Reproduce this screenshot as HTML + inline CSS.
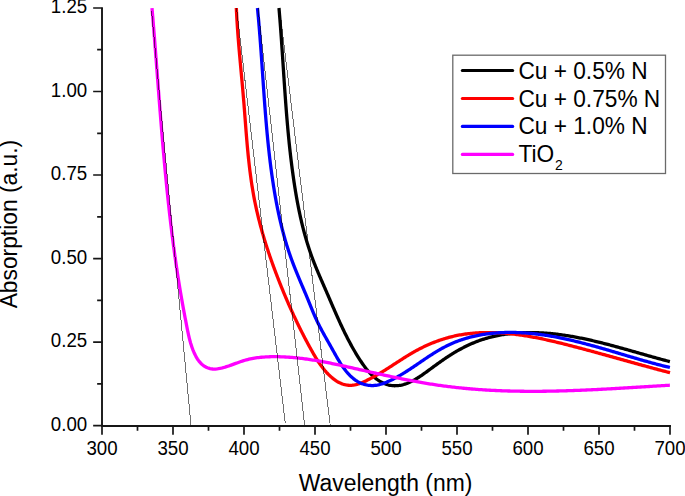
<!DOCTYPE html>
<html><head><meta charset="utf-8"><style>
html,body{margin:0;padding:0;background:#fff;width:685px;height:496px;overflow:hidden}
svg{display:block}
text{font-family:"Liberation Sans",sans-serif}
</style></head><body>
<svg width="685" height="496" viewBox="0 0 685 496">
<rect width="685" height="496" fill="#fff"/>
<g fill="none" stroke-width="3.3" stroke-linejoin="round" stroke-linecap="butt">
<path d="M278.98,8.00 L279.08,9.17 L279.18,10.34 L279.28,11.51 L279.37,12.68 L279.47,13.85 L279.56,15.02 L279.66,16.19 L279.75,17.36 L279.85,18.52 L279.94,19.69 L280.03,20.86 L280.12,22.03 L280.21,23.20 L280.30,24.37 L280.39,25.54 L280.48,26.71 L280.57,27.88 L280.65,29.05 L280.74,30.22 L280.82,31.39 L280.91,32.56 L280.99,33.73 L281.08,34.90 L281.16,36.08 L281.24,37.25 L281.33,38.42 L281.41,39.59 L281.49,40.76 L281.57,41.93 L281.65,43.10 L281.73,44.27 L281.81,45.44 L281.89,46.61 L281.97,47.78 L282.05,48.95 L282.13,50.12 L282.21,51.29 L282.29,52.46 L282.36,53.64 L282.44,54.81 L282.52,55.98 L282.60,57.15 L282.68,58.32 L282.75,59.49 L282.83,60.66 L282.91,61.83 L282.98,63.00 L283.06,64.17 L283.14,65.34 L283.21,66.52 L283.29,67.69 L283.37,68.86 L283.45,70.03 L283.52,71.20 L283.60,72.37 L283.68,73.54 L283.75,74.71 L283.83,75.88 L283.91,77.05 L283.99,78.22 L284.07,79.39 L284.14,80.57 L284.22,81.74 L284.30,82.91 L284.38,84.08 L284.46,85.25 L284.54,86.42 L284.62,87.59 L284.70,88.76 L284.78,89.93 L284.86,91.10 L284.95,92.27 L285.03,93.44 L285.11,94.61 L285.19,95.78 L285.28,96.95 L285.36,98.12 L285.45,99.29 L285.53,100.46 L285.62,101.63 L285.70,102.80 L285.79,103.97 L285.88,105.14 L285.97,106.31 L286.06,107.48 L286.15,108.65 L286.24,109.82 L286.33,110.99 L286.42,112.16 L286.51,113.33 L286.61,114.50 L286.70,115.67 L286.80,116.84 L286.89,118.01 L286.99,119.18 L287.09,120.35 L287.19,121.51 L287.28,122.68 L287.39,123.85 L287.49,125.02 L287.59,126.19 L287.69,127.36 L287.80,128.53 L287.90,129.69 L288.01,130.86 L288.12,132.03 L288.23,133.20 L288.34,134.37 L288.45,135.53 L288.56,136.70 L288.67,137.87 L288.79,139.04 L288.91,140.20 L289.02,141.37 L289.14,142.54 L289.26,143.71 L289.38,144.87 L289.50,146.04 L289.63,147.21 L289.75,148.37 L289.88,149.54 L290.01,150.70 L290.14,151.87 L290.27,153.04 L290.40,154.20 L290.53,155.37 L290.67,156.53 L290.81,157.70 L290.94,158.86 L291.08,160.03 L291.23,161.19 L291.37,162.36 L291.51,163.52 L291.66,164.69 L291.81,165.85 L291.96,167.02 L292.11,168.18 L292.26,169.35 L292.42,170.51 L292.57,171.67 L292.73,172.84 L292.89,174.00 L293.05,175.16 L293.22,176.33 L293.38,177.49 L293.55,178.65 L293.72,179.81 L293.89,180.98 L294.06,182.14 L294.24,183.30 L294.42,184.46 L294.59,185.62 L294.78,186.78 L294.96,187.94 L295.15,189.10 L295.33,190.26 L295.52,191.42 L295.72,192.58 L295.91,193.74 L296.11,194.90 L296.31,196.06 L296.51,197.22 L296.72,198.37 L296.93,199.53 L297.14,200.69 L297.35,201.84 L297.57,203.00 L297.78,204.15 L298.01,205.30 L298.23,206.46 L298.46,207.61 L298.69,208.76 L298.92,209.91 L299.16,211.06 L299.40,212.21 L299.64,213.36 L299.89,214.51 L300.13,215.66 L300.39,216.80 L300.64,217.95 L300.90,219.09 L301.16,220.23 L301.43,221.38 L301.70,222.52 L301.97,223.66 L302.25,224.80 L302.53,225.94 L302.81,227.07 L303.10,228.21 L303.39,229.35 L303.69,230.48 L303.99,231.61 L304.29,232.75 L304.60,233.88 L304.91,235.01 L305.22,236.13 L305.54,237.26 L305.87,238.39 L306.19,239.51 L306.53,240.63 L306.86,241.76 L307.20,242.88 L307.55,244.00 L307.90,245.11 L308.25,246.23 L308.61,247.34 L308.97,248.46 L309.34,249.57 L309.71,250.68 L310.08,251.79 L310.47,252.90 L310.85,254.00 L311.24,255.11 L311.64,256.21 L312.04,257.31 L312.44,258.41 L312.85,259.51 L313.27,260.60 L313.69,261.70 L314.11,262.79 L314.54,263.88 L314.98,264.97 L315.41,266.06 L315.85,267.14 L316.30,268.23 L316.75,269.31 L317.20,270.40 L317.65,271.48 L318.11,272.56 L318.57,273.64 L319.03,274.72 L319.49,275.80 L319.96,276.88 L320.43,277.96 L320.90,279.04 L321.37,280.11 L321.84,281.19 L322.31,282.27 L322.78,283.34 L323.25,284.42 L323.72,285.50 L324.19,286.57 L324.67,287.65 L325.14,288.73 L325.61,289.80 L326.08,290.88 L326.54,291.96 L327.01,293.04 L327.48,294.12 L327.94,295.20 L328.41,296.27 L328.88,297.35 L329.34,298.43 L329.80,299.51 L330.27,300.59 L330.73,301.67 L331.20,302.75 L331.66,303.82 L332.13,304.90 L332.59,305.98 L333.06,307.06 L333.53,308.13 L333.99,309.21 L334.46,310.28 L334.93,311.36 L335.40,312.43 L335.88,313.51 L336.35,314.58 L336.82,315.65 L337.30,316.72 L337.78,317.79 L338.26,318.86 L338.74,319.93 L339.23,321.00 L339.71,322.07 L340.20,323.13 L340.69,324.20 L341.18,325.26 L341.68,326.32 L342.18,327.38 L342.68,328.44 L343.18,329.50 L343.69,330.55 L344.20,331.61 L344.71,332.66 L345.23,333.71 L345.75,334.76 L346.28,335.81 L346.80,336.85 L347.33,337.90 L347.87,338.94 L348.41,339.98 L348.95,341.01 L349.50,342.05 L350.05,343.08 L350.61,344.12 L351.17,345.15 L351.73,346.17 L352.30,347.20 L352.88,348.22 L353.46,349.24 L354.05,350.26 L354.64,351.27 L355.23,352.28 L355.83,353.29 L356.44,354.30 L357.05,355.31 L357.67,356.31 L358.30,357.31 L358.93,358.30 L359.56,359.30 L360.21,360.29 L360.85,361.27 L361.51,362.25 L362.17,363.23 L362.85,364.20 L363.53,365.17 L364.22,366.12 L364.92,367.07 L365.64,368.00 L366.36,368.93 L367.10,369.84 L367.85,370.74 L368.62,371.63 L369.40,372.50 L370.19,373.36 L371.00,374.19 L371.83,375.01 L372.68,375.81 L373.54,376.60 L374.42,377.36 L375.32,378.10 L376.24,378.81 L377.18,379.50 L378.15,380.17 L379.13,380.81 L380.14,381.43 L381.17,382.01 L382.21,382.56 L383.28,383.08 L384.36,383.56 L385.46,383.99 L386.58,384.38 L387.70,384.73 L388.84,385.03 L389.99,385.27 L391.15,385.46 L392.31,385.60 L393.48,385.69 L394.64,385.73 L395.80,385.72 L396.95,385.67 L398.09,385.57 L399.22,385.44 L400.34,385.26 L401.46,385.04 L402.56,384.79 L403.66,384.50 L404.76,384.17 L405.84,383.82 L406.92,383.43 L407.99,383.01 L409.06,382.56 L410.11,382.08 L411.17,381.58 L412.21,381.06 L413.25,380.51 L414.28,379.95 L415.31,379.36 L416.33,378.75 L417.35,378.13 L418.36,377.49 L419.36,376.84 L420.36,376.18 L421.36,375.51 L422.35,374.83 L423.34,374.14 L424.32,373.44 L425.30,372.74 L426.27,372.04 L427.24,371.34 L428.21,370.63 L429.17,369.93 L430.13,369.23 L431.09,368.53 L432.04,367.83 L432.99,367.13 L433.94,366.44 L434.89,365.74 L435.84,365.05 L436.79,364.37 L437.74,363.68 L438.69,363.00 L439.64,362.32 L440.59,361.65 L441.54,360.98 L442.49,360.31 L443.44,359.65 L444.40,358.99 L445.36,358.34 L446.32,357.69 L447.28,357.05 L448.25,356.41 L449.22,355.78 L450.20,355.15 L451.18,354.53 L452.17,353.92 L453.16,353.31 L454.16,352.70 L455.16,352.11 L456.16,351.52 L457.17,350.94 L458.19,350.36 L459.21,349.79 L460.23,349.23 L461.26,348.68 L462.29,348.14 L463.33,347.60 L464.37,347.07 L465.41,346.55 L466.46,346.03 L467.52,345.53 L468.58,345.03 L469.64,344.54 L470.71,344.06 L471.78,343.59 L472.86,343.13 L473.94,342.68 L475.03,342.24 L476.12,341.81 L477.21,341.39 L478.31,340.97 L479.41,340.57 L480.52,340.18 L481.63,339.80 L482.75,339.43 L483.87,339.07 L484.99,338.72 L486.12,338.38 L487.25,338.05 L488.39,337.74 L489.53,337.43 L490.67,337.14 L491.82,336.85 L492.97,336.58 L494.12,336.31 L495.27,336.06 L496.43,335.81 L497.59,335.58 L498.75,335.36 L499.92,335.14 L501.08,334.94 L502.25,334.74 L503.42,334.55 L504.59,334.38 L505.76,334.21 L506.94,334.05 L508.11,333.90 L509.29,333.76 L510.46,333.62 L511.64,333.50 L512.81,333.38 L513.99,333.27 L515.16,333.17 L516.33,333.08 L517.51,332.99 L518.68,332.92 L519.86,332.85 L521.03,332.79 L522.20,332.73 L523.37,332.69 L524.54,332.65 L525.71,332.61 L526.88,332.59 L528.05,332.57 L529.22,332.56 L530.39,332.56 L531.56,332.56 L532.73,332.57 L533.90,332.59 L535.06,332.61 L536.23,332.65 L537.40,332.68 L538.56,332.73 L539.73,332.78 L540.89,332.83 L542.06,332.90 L543.22,332.97 L544.39,333.04 L545.55,333.12 L546.71,333.21 L547.88,333.30 L549.04,333.40 L550.20,333.51 L551.36,333.62 L552.52,333.73 L553.68,333.86 L554.84,333.98 L556.00,334.12 L557.16,334.25 L558.32,334.40 L559.48,334.54 L560.63,334.70 L561.79,334.86 L562.95,335.02 L564.11,335.19 L565.26,335.36 L566.42,335.54 L567.57,335.72 L568.73,335.91 L569.88,336.10 L571.04,336.29 L572.19,336.49 L573.34,336.70 L574.50,336.90 L575.65,337.12 L576.80,337.33 L577.95,337.55 L579.10,337.78 L580.25,338.01 L581.40,338.24 L582.55,338.47 L583.70,338.71 L584.85,338.96 L586.00,339.20 L587.15,339.45 L588.30,339.70 L589.44,339.96 L590.59,340.22 L591.74,340.48 L592.88,340.74 L594.03,341.01 L595.17,341.28 L596.32,341.56 L597.46,341.83 L598.61,342.11 L599.75,342.39 L600.89,342.68 L602.04,342.96 L603.18,343.25 L604.32,343.54 L605.46,343.83 L606.60,344.13 L607.74,344.42 L608.88,344.72 L610.02,345.02 L611.16,345.32 L612.30,345.63 L613.44,345.93 L614.58,346.24 L615.72,346.55 L616.86,346.86 L617.99,347.17 L619.13,347.48 L620.27,347.80 L621.40,348.11 L622.54,348.43 L623.67,348.74 L624.81,349.06 L625.94,349.38 L627.08,349.70 L628.21,350.02 L629.34,350.34 L630.48,350.66 L631.61,350.98 L632.74,351.30 L633.87,351.62 L635.00,351.94 L636.13,352.27 L637.26,352.59 L638.39,352.91 L639.52,353.23 L640.65,353.55 L641.78,353.88 L642.91,354.20 L644.04,354.52 L645.17,354.84 L646.29,355.16 L647.42,355.48 L648.55,355.79 L649.67,356.11 L650.80,356.43 L651.92,356.74 L653.05,357.06 L654.17,357.37 L655.30,357.68 L656.42,357.99 L657.54,358.30 L658.67,358.61 L659.79,358.92 L660.91,359.22 L662.03,359.53 L663.16,359.83 L664.28,360.13 L665.40,360.43 L666.52,360.73 L667.64,361.02 L668.76,361.31 L669.88,361.60" stroke="#000"/>
<path d="M236.33,7.99 L236.39,9.24 L236.44,10.49 L236.50,11.74 L236.56,12.99 L236.63,14.24 L236.69,15.49 L236.76,16.74 L236.83,17.99 L236.90,19.24 L236.98,20.48 L237.05,21.73 L237.13,22.97 L237.21,24.22 L237.29,25.46 L237.37,26.71 L237.46,27.95 L237.54,29.19 L237.63,30.44 L237.72,31.68 L237.81,32.92 L237.90,34.16 L237.99,35.40 L238.09,36.64 L238.18,37.88 L238.28,39.12 L238.38,40.36 L238.48,41.60 L238.58,42.84 L238.68,44.08 L238.78,45.32 L238.88,46.56 L238.99,47.79 L239.09,49.03 L239.20,50.27 L239.31,51.51 L239.41,52.74 L239.52,53.98 L239.63,55.22 L239.74,56.46 L239.85,57.69 L239.96,58.93 L240.07,60.16 L240.18,61.40 L240.30,62.64 L240.41,63.87 L240.52,65.11 L240.63,66.35 L240.75,67.58 L240.86,68.82 L240.97,70.05 L241.09,71.29 L241.20,72.53 L241.31,73.76 L241.43,75.00 L241.54,76.23 L241.65,77.47 L241.76,78.71 L241.88,79.94 L241.99,81.18 L242.10,82.42 L242.21,83.65 L242.32,84.89 L242.44,86.13 L242.55,87.37 L242.66,88.60 L242.77,89.84 L242.87,91.08 L242.98,92.32 L243.09,93.56 L243.20,94.80 L243.30,96.04 L243.41,97.28 L243.51,98.52 L243.61,99.76 L243.72,101.00 L243.82,102.24 L243.92,103.48 L244.02,104.72 L244.12,105.97 L244.21,107.21 L244.31,108.45 L244.41,109.69 L244.51,110.94 L244.60,112.18 L244.70,113.42 L244.79,114.67 L244.89,115.91 L244.98,117.16 L245.08,118.40 L245.18,119.65 L245.27,120.89 L245.37,122.14 L245.46,123.38 L245.56,124.63 L245.65,125.87 L245.75,127.12 L245.85,128.36 L245.95,129.61 L246.04,130.85 L246.14,132.10 L246.24,133.34 L246.34,134.59 L246.44,135.83 L246.55,137.08 L246.65,138.32 L246.75,139.57 L246.86,140.81 L246.97,142.05 L247.07,143.30 L247.18,144.54 L247.29,145.79 L247.40,147.03 L247.52,148.27 L247.63,149.52 L247.75,150.76 L247.87,152.00 L247.99,153.24 L248.11,154.49 L248.23,155.73 L248.36,156.97 L248.49,158.21 L248.62,159.45 L248.75,160.69 L248.89,161.93 L249.02,163.17 L249.16,164.41 L249.30,165.65 L249.45,166.89 L249.59,168.13 L249.74,169.36 L249.89,170.60 L250.05,171.84 L250.21,173.07 L250.37,174.31 L250.53,175.54 L250.70,176.78 L250.87,178.01 L251.04,179.24 L251.22,180.47 L251.39,181.71 L251.58,182.94 L251.76,184.17 L251.95,185.40 L252.15,186.63 L252.34,187.85 L252.54,189.08 L252.75,190.31 L252.95,191.53 L253.17,192.76 L253.38,193.98 L253.60,195.21 L253.82,196.43 L254.05,197.65 L254.28,198.87 L254.52,200.09 L254.76,201.31 L255.01,202.53 L255.26,203.75 L255.51,204.97 L255.77,206.18 L256.03,207.40 L256.30,208.61 L256.57,209.82 L256.84,211.04 L257.12,212.25 L257.40,213.46 L257.69,214.67 L257.98,215.88 L258.27,217.09 L258.57,218.29 L258.87,219.50 L259.18,220.70 L259.49,221.91 L259.80,223.11 L260.11,224.31 L260.44,225.52 L260.76,226.72 L261.09,227.92 L261.42,229.11 L261.75,230.31 L262.09,231.51 L262.43,232.71 L262.78,233.90 L263.13,235.10 L263.48,236.29 L263.83,237.48 L264.19,238.67 L264.55,239.87 L264.92,241.06 L265.29,242.24 L265.66,243.43 L266.03,244.62 L266.41,245.81 L266.79,246.99 L267.18,248.18 L267.56,249.36 L267.95,250.54 L268.34,251.73 L268.74,252.91 L269.14,254.09 L269.54,255.27 L269.94,256.45 L270.35,257.62 L270.76,258.80 L271.17,259.97 L271.59,261.15 L272.00,262.32 L272.42,263.50 L272.85,264.67 L273.27,265.84 L273.70,267.01 L274.13,268.18 L274.56,269.35 L275.00,270.52 L275.44,271.68 L275.87,272.85 L276.32,274.01 L276.76,275.18 L277.21,276.34 L277.66,277.50 L278.11,278.66 L278.56,279.83 L279.01,280.98 L279.47,282.14 L279.93,283.30 L280.39,284.46 L280.86,285.61 L281.32,286.77 L281.79,287.92 L282.26,289.08 L282.73,290.23 L283.20,291.38 L283.68,292.53 L284.16,293.68 L284.64,294.83 L285.12,295.97 L285.61,297.12 L286.10,298.27 L286.59,299.41 L287.08,300.55 L287.57,301.70 L288.07,302.84 L288.57,303.98 L289.07,305.12 L289.57,306.25 L290.08,307.39 L290.59,308.53 L291.10,309.66 L291.61,310.79 L292.13,311.93 L292.65,313.06 L293.17,314.19 L293.69,315.32 L294.22,316.45 L294.75,317.57 L295.28,318.70 L295.81,319.82 L296.34,320.95 L296.88,322.07 L297.42,323.19 L297.97,324.31 L298.51,325.43 L299.06,326.55 L299.61,327.66 L300.16,328.78 L300.72,329.89 L301.28,331.00 L301.84,332.12 L302.40,333.23 L302.97,334.33 L303.54,335.44 L304.11,336.55 L304.69,337.65 L305.26,338.76 L305.84,339.86 L306.43,340.96 L307.01,342.06 L307.60,343.16 L308.19,344.26 L308.79,345.35 L309.38,346.45 L309.98,347.54 L310.59,348.63 L311.19,349.72 L311.80,350.81 L312.41,351.90 L313.03,352.99 L313.65,354.07 L314.27,355.15 L314.91,356.22 L315.55,357.29 L316.20,358.35 L316.85,359.41 L317.52,360.46 L318.19,361.50 L318.88,362.54 L319.58,363.57 L320.29,364.58 L321.01,365.59 L321.74,366.59 L322.49,367.58 L323.26,368.56 L324.04,369.52 L324.83,370.47 L325.64,371.41 L326.47,372.34 L327.32,373.25 L328.19,374.15 L329.08,375.03 L329.99,375.89 L330.92,376.74 L331.87,377.57 L332.84,378.38 L333.83,379.16 L334.85,379.92 L335.88,380.64 L336.94,381.32 L338.02,381.96 L339.11,382.56 L340.23,383.10 L341.37,383.59 L342.52,384.02 L343.70,384.39 L344.89,384.70 L346.10,384.95 L347.31,385.13 L348.53,385.25 L349.76,385.30 L350.99,385.30 L352.22,385.23 L353.44,385.10 L354.65,384.91 L355.86,384.66 L357.05,384.35 L358.24,384.00 L359.41,383.60 L360.58,383.17 L361.74,382.70 L362.89,382.21 L364.04,381.70 L365.18,381.18 L366.31,380.64 L367.43,380.10 L368.55,379.54 L369.67,378.98 L370.78,378.40 L371.88,377.82 L372.97,377.23 L374.07,376.63 L375.15,376.02 L376.24,375.41 L377.32,374.79 L378.39,374.16 L379.46,373.53 L380.53,372.89 L381.60,372.25 L382.66,371.60 L383.72,370.94 L384.77,370.29 L385.83,369.62 L386.88,368.96 L387.93,368.29 L388.97,367.62 L390.02,366.95 L391.07,366.27 L392.11,365.60 L393.16,364.92 L394.20,364.24 L395.24,363.57 L396.29,362.89 L397.33,362.21 L398.38,361.54 L399.42,360.86 L400.47,360.19 L401.51,359.52 L402.56,358.85 L403.61,358.18 L404.67,357.52 L405.72,356.86 L406.78,356.21 L407.84,355.56 L408.90,354.91 L409.97,354.27 L411.04,353.64 L412.11,353.01 L413.19,352.39 L414.27,351.77 L415.35,351.17 L416.44,350.57 L417.54,349.97 L418.64,349.39 L419.74,348.81 L420.85,348.25 L421.97,347.69 L423.09,347.14 L424.21,346.60 L425.34,346.07 L426.47,345.54 L427.61,345.03 L428.75,344.52 L429.90,344.03 L431.05,343.54 L432.21,343.07 L433.36,342.60 L434.53,342.15 L435.69,341.70 L436.86,341.26 L438.04,340.84 L439.21,340.42 L440.40,340.01 L441.58,339.62 L442.77,339.23 L443.96,338.86 L445.15,338.49 L446.35,338.14 L447.55,337.80 L448.75,337.46 L449.96,337.14 L451.16,336.83 L452.37,336.54 L453.59,336.25 L454.80,335.97 L456.02,335.71 L457.24,335.45 L458.46,335.21 L459.68,334.98 L460.91,334.76 L462.13,334.56 L463.36,334.36 L464.59,334.17 L465.82,334.00 L467.06,333.83 L468.29,333.68 L469.53,333.54 L470.77,333.40 L472.00,333.28 L473.24,333.17 L474.48,333.07 L475.73,332.97 L476.97,332.89 L478.21,332.81 L479.45,332.75 L480.70,332.69 L481.94,332.65 L483.18,332.61 L484.43,332.58 L485.67,332.56 L486.92,332.55 L488.16,332.55 L489.41,332.55 L490.65,332.56 L491.90,332.59 L493.14,332.61 L494.38,332.65 L495.63,332.70 L496.87,332.75 L498.11,332.81 L499.35,332.87 L500.59,332.95 L501.83,333.03 L503.07,333.12 L504.31,333.21 L505.54,333.31 L506.78,333.42 L508.02,333.53 L509.25,333.66 L510.49,333.78 L511.73,333.92 L512.96,334.06 L514.19,334.20 L515.43,334.35 L516.66,334.51 L517.89,334.68 L519.12,334.84 L520.35,335.02 L521.58,335.20 L522.81,335.38 L524.04,335.57 L525.27,335.77 L526.50,335.97 L527.72,336.17 L528.95,336.38 L530.18,336.60 L531.40,336.82 L532.63,337.04 L533.85,337.27 L535.08,337.50 L536.30,337.74 L537.52,337.98 L538.74,338.22 L539.97,338.47 L541.19,338.72 L542.41,338.98 L543.63,339.24 L544.85,339.50 L546.06,339.76 L547.28,340.03 L548.50,340.31 L549.72,340.58 L550.93,340.86 L552.15,341.14 L553.36,341.42 L554.58,341.71 L555.79,342.00 L557.01,342.29 L558.22,342.58 L559.43,342.87 L560.64,343.17 L561.86,343.47 L563.07,343.77 L564.28,344.07 L565.49,344.38 L566.69,344.68 L567.90,344.99 L569.11,345.30 L570.32,345.61 L571.53,345.92 L572.73,346.23 L573.94,346.54 L575.14,346.86 L576.35,347.17 L577.55,347.49 L578.76,347.80 L579.96,348.12 L581.16,348.44 L582.37,348.76 L583.57,349.08 L584.77,349.40 L585.97,349.72 L587.17,350.05 L588.37,350.37 L589.57,350.69 L590.77,351.02 L591.97,351.34 L593.17,351.67 L594.37,352.00 L595.57,352.32 L596.77,352.65 L597.97,352.98 L599.17,353.31 L600.37,353.64 L601.56,353.97 L602.76,354.30 L603.96,354.63 L605.16,354.96 L606.35,355.29 L607.55,355.63 L608.75,355.96 L609.95,356.29 L611.14,356.62 L612.34,356.96 L613.54,357.29 L614.73,357.62 L615.93,357.96 L617.13,358.29 L618.32,358.63 L619.52,358.96 L620.72,359.29 L621.92,359.63 L623.11,359.96 L624.31,360.30 L625.51,360.63 L626.71,360.96 L627.90,361.30 L629.10,361.63 L630.30,361.96 L631.50,362.30 L632.70,362.63 L633.89,362.96 L635.09,363.30 L636.29,363.63 L637.49,363.96 L638.69,364.29 L639.89,364.62 L641.09,364.96 L642.29,365.29 L643.49,365.62 L644.69,365.95 L645.90,366.28 L647.10,366.60 L648.30,366.93 L649.50,367.26 L650.71,367.59 L651.91,367.91 L653.11,368.24 L654.32,368.56 L655.52,368.89 L656.73,369.21 L657.93,369.54 L659.14,369.86 L660.35,370.18 L661.55,370.50 L662.76,370.82 L663.97,371.14 L665.18,371.46 L666.39,371.77 L667.60,372.09 L668.81,372.40 L670.02,372.72" stroke="#f00"/>
<path d="M257.46,8.02 L257.58,9.22 L257.70,10.42 L257.81,11.63 L257.92,12.83 L258.04,14.04 L258.15,15.24 L258.26,16.45 L258.37,17.65 L258.47,18.86 L258.58,20.06 L258.69,21.27 L258.79,22.47 L258.89,23.68 L258.99,24.88 L259.10,26.09 L259.20,27.30 L259.30,28.50 L259.39,29.71 L259.49,30.91 L259.59,32.12 L259.68,33.33 L259.78,34.53 L259.87,35.74 L259.97,36.95 L260.06,38.15 L260.15,39.36 L260.24,40.57 L260.33,41.77 L260.42,42.98 L260.51,44.19 L260.60,45.40 L260.69,46.60 L260.78,47.81 L260.87,49.02 L260.95,50.23 L261.04,51.43 L261.13,52.64 L261.21,53.85 L261.30,55.06 L261.38,56.27 L261.47,57.47 L261.55,58.68 L261.63,59.89 L261.72,61.10 L261.80,62.31 L261.88,63.51 L261.97,64.72 L262.05,65.93 L262.13,67.14 L262.21,68.35 L262.30,69.55 L262.38,70.76 L262.46,71.97 L262.54,73.18 L262.62,74.39 L262.71,75.60 L262.79,76.80 L262.87,78.01 L262.95,79.22 L263.04,80.43 L263.12,81.64 L263.20,82.85 L263.28,84.05 L263.37,85.26 L263.45,86.47 L263.53,87.68 L263.62,88.89 L263.70,90.10 L263.79,91.30 L263.87,92.51 L263.96,93.72 L264.04,94.93 L264.13,96.14 L264.22,97.34 L264.30,98.55 L264.39,99.76 L264.48,100.97 L264.57,102.18 L264.66,103.38 L264.75,104.59 L264.84,105.80 L264.93,107.01 L265.02,108.21 L265.11,109.42 L265.21,110.63 L265.30,111.84 L265.39,113.04 L265.49,114.25 L265.59,115.46 L265.68,116.66 L265.78,117.87 L265.88,119.08 L265.98,120.28 L266.08,121.49 L266.18,122.70 L266.29,123.90 L266.39,125.11 L266.49,126.32 L266.60,127.52 L266.71,128.73 L266.81,129.93 L266.92,131.14 L267.03,132.34 L267.15,133.55 L267.26,134.75 L267.37,135.96 L267.49,137.16 L267.60,138.37 L267.72,139.57 L267.84,140.78 L267.96,141.98 L268.08,143.19 L268.21,144.39 L268.33,145.59 L268.46,146.80 L268.59,148.00 L268.71,149.20 L268.84,150.41 L268.98,151.61 L269.11,152.81 L269.25,154.02 L269.38,155.22 L269.52,156.42 L269.66,157.62 L269.80,158.83 L269.95,160.03 L270.09,161.23 L270.24,162.43 L270.39,163.63 L270.54,164.83 L270.69,166.03 L270.85,167.23 L271.00,168.43 L271.16,169.63 L271.32,170.83 L271.48,172.03 L271.65,173.23 L271.81,174.43 L271.98,175.63 L272.15,176.83 L272.32,178.03 L272.50,179.23 L272.68,180.42 L272.85,181.62 L273.04,182.82 L273.22,184.02 L273.40,185.21 L273.59,186.41 L273.78,187.61 L273.97,188.80 L274.17,190.00 L274.37,191.19 L274.57,192.39 L274.77,193.58 L274.97,194.78 L275.18,195.97 L275.39,197.16 L275.61,198.35 L275.82,199.55 L276.04,200.74 L276.26,201.93 L276.49,203.12 L276.71,204.31 L276.94,205.50 L277.18,206.68 L277.41,207.87 L277.65,209.06 L277.90,210.25 L278.14,211.43 L278.39,212.61 L278.64,213.80 L278.90,214.98 L279.16,216.16 L279.42,217.35 L279.68,218.53 L279.95,219.71 L280.23,220.88 L280.50,222.06 L280.78,223.24 L281.06,224.41 L281.35,225.59 L281.64,226.76 L281.94,227.94 L282.23,229.11 L282.54,230.28 L282.84,231.45 L283.15,232.62 L283.47,233.79 L283.78,234.95 L284.10,236.12 L284.43,237.28 L284.76,238.45 L285.09,239.61 L285.43,240.77 L285.77,241.93 L286.12,243.09 L286.47,244.24 L286.83,245.40 L287.19,246.55 L287.55,247.71 L287.92,248.86 L288.29,250.01 L288.67,251.16 L289.05,252.30 L289.44,253.45 L289.83,254.59 L290.22,255.74 L290.62,256.88 L291.03,258.02 L291.44,259.16 L291.86,260.30 L292.28,261.43 L292.70,262.56 L293.13,263.70 L293.56,264.83 L294.00,265.96 L294.44,267.09 L294.89,268.22 L295.33,269.34 L295.79,270.47 L296.24,271.59 L296.70,272.72 L297.16,273.84 L297.62,274.96 L298.08,276.08 L298.55,277.20 L299.02,278.32 L299.49,279.44 L299.96,280.56 L300.43,281.68 L300.90,282.80 L301.38,283.92 L301.85,285.03 L302.32,286.15 L302.80,287.27 L303.27,288.39 L303.75,289.51 L304.22,290.62 L304.69,291.74 L305.17,292.86 L305.64,293.98 L306.11,295.10 L306.57,296.22 L307.04,297.34 L307.50,298.46 L307.97,299.58 L308.43,300.71 L308.88,301.83 L309.34,302.95 L309.79,304.08 L310.25,305.20 L310.70,306.32 L311.16,307.44 L311.62,308.56 L312.08,309.68 L312.54,310.80 L313.00,311.92 L313.47,313.03 L313.94,314.14 L314.42,315.25 L314.90,316.36 L315.39,317.46 L315.89,318.56 L316.39,319.66 L316.90,320.75 L317.42,321.84 L317.95,322.92 L318.48,324.00 L319.02,325.08 L319.57,326.15 L320.12,327.22 L320.68,328.29 L321.24,329.36 L321.80,330.42 L322.38,331.48 L322.95,332.54 L323.53,333.60 L324.11,334.65 L324.70,335.71 L325.29,336.76 L325.88,337.81 L326.47,338.86 L327.06,339.91 L327.66,340.96 L328.26,342.01 L328.85,343.06 L329.45,344.11 L330.05,345.16 L330.64,346.22 L331.24,347.27 L331.83,348.32 L332.42,349.37 L333.01,350.43 L333.60,351.49 L334.19,352.54 L334.77,353.60 L335.36,354.66 L335.96,355.71 L336.55,356.76 L337.16,357.82 L337.76,358.86 L338.38,359.91 L339.00,360.95 L339.64,361.98 L340.28,363.01 L340.94,364.04 L341.60,365.06 L342.29,366.07 L342.99,367.07 L343.70,368.07 L344.43,369.05 L345.18,370.03 L345.95,371.00 L346.74,371.95 L347.55,372.89 L348.38,373.81 L349.23,374.72 L350.10,375.60 L350.98,376.45 L351.89,377.29 L352.81,378.09 L353.76,378.86 L354.72,379.60 L355.71,380.30 L356.71,380.96 L357.73,381.59 L358.77,382.17 L359.83,382.71 L360.91,383.20 L362.00,383.64 L363.11,384.04 L364.23,384.40 L365.36,384.70 L366.51,384.96 L367.66,385.17 L368.82,385.34 L369.99,385.45 L371.16,385.51 L372.33,385.53 L373.51,385.49 L374.68,385.40 L375.86,385.26 L377.04,385.08 L378.21,384.86 L379.38,384.59 L380.55,384.28 L381.72,383.94 L382.88,383.57 L384.04,383.16 L385.19,382.73 L386.34,382.28 L387.48,381.80 L388.61,381.30 L389.74,380.78 L390.86,380.25 L391.97,379.71 L393.07,379.16 L394.16,378.60 L395.25,378.03 L396.32,377.45 L397.39,376.87 L398.45,376.27 L399.51,375.67 L400.56,375.06 L401.60,374.44 L402.64,373.82 L403.67,373.19 L404.70,372.55 L405.72,371.91 L406.74,371.27 L407.76,370.62 L408.77,369.96 L409.77,369.30 L410.78,368.64 L411.78,367.97 L412.78,367.30 L413.78,366.63 L414.77,365.96 L415.77,365.28 L416.76,364.60 L417.76,363.92 L418.75,363.25 L419.74,362.57 L420.74,361.89 L421.73,361.21 L422.73,360.53 L423.72,359.85 L424.72,359.17 L425.73,358.50 L426.73,357.83 L427.74,357.16 L428.75,356.49 L429.76,355.83 L430.78,355.17 L431.80,354.52 L432.82,353.87 L433.85,353.22 L434.88,352.58 L435.91,351.95 L436.95,351.32 L437.99,350.70 L439.04,350.09 L440.09,349.48 L441.14,348.89 L442.20,348.30 L443.27,347.72 L444.33,347.15 L445.41,346.59 L446.48,346.04 L447.57,345.50 L448.65,344.97 L449.74,344.46 L450.84,343.96 L451.94,343.46 L453.05,342.99 L454.16,342.52 L455.28,342.06 L456.40,341.62 L457.52,341.19 L458.65,340.77 L459.78,340.36 L460.92,339.96 L462.06,339.58 L463.21,339.21 L464.36,338.84 L465.51,338.49 L466.67,338.15 L467.83,337.82 L468.99,337.50 L470.15,337.19 L471.32,336.90 L472.50,336.61 L473.67,336.33 L474.85,336.07 L476.03,335.81 L477.22,335.56 L478.40,335.33 L479.59,335.10 L480.78,334.89 L481.97,334.68 L483.17,334.48 L484.37,334.30 L485.56,334.12 L486.76,333.95 L487.97,333.79 L489.17,333.64 L490.38,333.50 L491.58,333.37 L492.79,333.25 L494.00,333.13 L495.21,333.03 L496.42,332.93 L497.63,332.85 L498.84,332.77 L500.06,332.70 L501.27,332.63 L502.48,332.58 L503.70,332.53 L504.91,332.49 L506.13,332.46 L507.34,332.44 L508.55,332.43 L509.77,332.42 L510.98,332.42 L512.19,332.43 L513.41,332.44 L514.62,332.46 L515.83,332.49 L517.04,332.53 L518.25,332.57 L519.46,332.62 L520.66,332.68 L521.87,332.74 L523.08,332.81 L524.28,332.89 L525.49,332.97 L526.69,333.06 L527.89,333.16 L529.09,333.26 L530.30,333.37 L531.50,333.48 L532.70,333.60 L533.90,333.73 L535.09,333.86 L536.29,334.00 L537.49,334.15 L538.68,334.30 L539.88,334.45 L541.07,334.61 L542.27,334.78 L543.46,334.95 L544.65,335.12 L545.85,335.31 L547.04,335.49 L548.23,335.68 L549.42,335.88 L550.61,336.08 L551.80,336.29 L552.99,336.50 L554.17,336.71 L555.36,336.93 L556.55,337.16 L557.73,337.39 L558.92,337.62 L560.10,337.86 L561.29,338.10 L562.47,338.34 L563.65,338.59 L564.84,338.85 L566.02,339.10 L567.20,339.36 L568.38,339.63 L569.56,339.89 L570.74,340.17 L571.92,340.44 L573.10,340.72 L574.28,341.00 L575.45,341.28 L576.63,341.57 L577.81,341.86 L578.98,342.16 L580.16,342.45 L581.34,342.75 L582.51,343.05 L583.68,343.36 L584.86,343.66 L586.03,343.97 L587.21,344.28 L588.38,344.60 L589.55,344.91 L590.72,345.23 L591.90,345.55 L593.07,345.87 L594.24,346.20 L595.41,346.52 L596.58,346.85 L597.75,347.18 L598.92,347.51 L600.09,347.84 L601.26,348.18 L602.42,348.51 L603.59,348.85 L604.76,349.18 L605.93,349.52 L607.10,349.86 L608.26,350.20 L609.43,350.54 L610.60,350.89 L611.76,351.23 L612.93,351.57 L614.09,351.92 L615.26,352.26 L616.42,352.61 L617.59,352.95 L618.75,353.30 L619.92,353.64 L621.08,353.99 L622.25,354.33 L623.41,354.68 L624.57,355.02 L625.74,355.37 L626.90,355.71 L628.06,356.06 L629.23,356.40 L630.39,356.74 L631.55,357.09 L632.72,357.43 L633.88,357.77 L635.04,358.11 L636.20,358.45 L637.36,358.78 L638.53,359.12 L639.69,359.46 L640.85,359.79 L642.01,360.12 L643.17,360.46 L644.34,360.79 L645.50,361.11 L646.66,361.44 L647.82,361.77 L648.98,362.09 L650.14,362.41 L651.30,362.73 L652.47,363.05 L653.63,363.36 L654.79,363.67 L655.95,363.98 L657.11,364.29 L658.27,364.60 L659.43,364.90 L660.59,365.20 L661.76,365.50 L662.92,365.79 L664.08,366.08 L665.24,366.37 L666.40,366.66 L667.56,366.94 L668.73,367.22 L669.89,367.50" stroke="#00f"/>
<path d="M152.00,8.02 L152.11,9.41 L152.23,10.80 L152.35,12.19 L152.47,13.58 L152.58,14.97 L152.70,16.36 L152.81,17.75 L152.93,19.14 L153.04,20.54 L153.16,21.93 L153.27,23.32 L153.38,24.71 L153.50,26.10 L153.61,27.49 L153.72,28.88 L153.83,30.28 L153.94,31.67 L154.06,33.06 L154.17,34.45 L154.28,35.84 L154.39,37.23 L154.50,38.62 L154.61,40.02 L154.72,41.41 L154.83,42.80 L154.93,44.19 L155.04,45.58 L155.15,46.98 L155.26,48.37 L155.37,49.76 L155.48,51.15 L155.58,52.54 L155.69,53.94 L155.80,55.33 L155.90,56.72 L156.01,58.11 L156.12,59.50 L156.22,60.90 L156.33,62.29 L156.44,63.68 L156.54,65.07 L156.65,66.47 L156.76,67.86 L156.86,69.25 L156.97,70.64 L157.08,72.03 L157.18,73.43 L157.29,74.82 L157.39,76.21 L157.50,77.60 L157.61,79.00 L157.71,80.39 L157.82,81.78 L157.92,83.17 L158.03,84.57 L158.14,85.96 L158.24,87.35 L158.35,88.74 L158.46,90.13 L158.56,91.53 L158.67,92.92 L158.78,94.31 L158.88,95.70 L158.99,97.10 L159.10,98.49 L159.21,99.88 L159.31,101.27 L159.42,102.66 L159.53,104.06 L159.64,105.45 L159.75,106.84 L159.86,108.23 L159.96,109.62 L160.07,111.02 L160.18,112.41 L160.29,113.80 L160.40,115.19 L160.51,116.58 L160.62,117.98 L160.74,119.37 L160.85,120.76 L160.96,122.15 L161.07,123.54 L161.18,124.94 L161.30,126.33 L161.41,127.72 L161.52,129.11 L161.64,130.50 L161.75,131.89 L161.87,133.29 L161.98,134.68 L162.10,136.07 L162.21,137.46 L162.33,138.85 L162.45,140.24 L162.56,141.63 L162.68,143.02 L162.80,144.42 L162.92,145.81 L163.04,147.20 L163.16,148.59 L163.28,149.98 L163.40,151.37 L163.52,152.76 L163.64,154.15 L163.77,155.54 L163.89,156.93 L164.02,158.32 L164.14,159.71 L164.27,161.10 L164.39,162.49 L164.52,163.88 L164.65,165.27 L164.77,166.66 L164.90,168.05 L165.03,169.44 L165.16,170.83 L165.29,172.22 L165.42,173.61 L165.56,175.00 L165.69,176.39 L165.82,177.78 L165.96,179.17 L166.09,180.56 L166.23,181.95 L166.37,183.34 L166.50,184.73 L166.64,186.12 L166.78,187.51 L166.92,188.89 L167.06,190.28 L167.21,191.67 L167.35,193.06 L167.49,194.45 L167.64,195.84 L167.78,197.23 L167.93,198.61 L168.08,200.00 L168.22,201.39 L168.37,202.78 L168.52,204.16 L168.67,205.55 L168.83,206.94 L168.98,208.33 L169.13,209.71 L169.29,211.10 L169.44,212.49 L169.60,213.88 L169.76,215.26 L169.92,216.65 L170.08,218.04 L170.24,219.42 L170.40,220.81 L170.57,222.19 L170.73,223.58 L170.90,224.97 L171.06,226.35 L171.23,227.74 L171.40,229.12 L171.57,230.51 L171.74,231.89 L171.91,233.28 L172.09,234.66 L172.26,236.05 L172.44,237.43 L172.62,238.82 L172.80,240.20 L172.98,241.59 L173.16,242.97 L173.34,244.36 L173.52,245.74 L173.71,247.12 L173.89,248.51 L174.08,249.89 L174.27,251.28 L174.46,252.66 L174.65,254.04 L174.84,255.42 L175.04,256.81 L175.23,258.19 L175.43,259.57 L175.63,260.95 L175.83,262.34 L176.03,263.72 L176.23,265.10 L176.44,266.48 L176.64,267.86 L176.85,269.25 L177.06,270.63 L177.27,272.01 L177.48,273.39 L177.69,274.77 L177.90,276.15 L178.12,277.53 L178.34,278.91 L178.56,280.29 L178.78,281.67 L179.00,283.05 L179.22,284.43 L179.45,285.81 L179.67,287.19 L179.90,288.57 L180.13,289.95 L180.36,291.33 L180.59,292.70 L180.83,294.08 L181.07,295.46 L181.30,296.84 L181.54,298.22 L181.78,299.59 L182.03,300.97 L182.27,302.35 L182.52,303.72 L182.76,305.10 L183.01,306.47 L183.26,307.85 L183.51,309.22 L183.77,310.59 L184.02,311.97 L184.28,313.34 L184.53,314.71 L184.79,316.08 L185.05,317.45 L185.31,318.81 L185.57,320.18 L185.84,321.54 L186.10,322.91 L186.37,324.27 L186.63,325.63 L186.90,326.99 L187.17,328.35 L187.44,329.71 L187.72,331.06 L188.00,332.41 L188.29,333.77 L188.58,335.12 L188.89,336.46 L189.21,337.81 L189.55,339.15 L189.90,340.50 L190.27,341.84 L190.65,343.18 L191.06,344.51 L191.49,345.85 L191.94,347.18 L192.42,348.51 L192.92,349.84 L193.45,351.16 L194.01,352.48 L194.61,353.79 L195.24,355.09 L195.90,356.36 L196.60,357.61 L197.35,358.82 L198.13,359.99 L198.96,361.12 L199.84,362.19 L200.77,363.21 L201.74,364.16 L202.77,365.04 L203.86,365.85 L205.00,366.57 L206.19,367.21 L207.44,367.76 L208.73,368.21 L210.06,368.57 L211.41,368.84 L212.78,369.01 L214.17,369.08 L215.55,369.05 L216.94,368.93 L218.32,368.73 L219.70,368.47 L221.06,368.18 L222.42,367.85 L223.77,367.48 L225.12,367.10 L226.45,366.69 L227.78,366.25 L229.11,365.81 L230.43,365.34 L231.75,364.87 L233.07,364.39 L234.38,363.91 L235.70,363.42 L237.01,362.94 L238.33,362.46 L239.65,361.99 L240.97,361.54 L242.30,361.10 L243.63,360.68 L244.97,360.28 L246.31,359.90 L247.66,359.55 L249.01,359.22 L250.37,358.92 L251.74,358.64 L253.11,358.38 L254.48,358.14 L255.86,357.92 L257.25,357.73 L258.63,357.55 L260.02,357.39 L261.41,357.25 L262.81,357.13 L264.20,357.02 L265.60,356.93 L267.00,356.85 L268.41,356.79 L269.81,356.74 L271.21,356.71 L272.61,356.69 L274.02,356.68 L275.42,356.68 L276.82,356.70 L278.22,356.72 L279.62,356.75 L281.02,356.80 L282.42,356.85 L283.81,356.91 L285.21,356.98 L286.60,357.06 L287.99,357.14 L289.38,357.24 L290.77,357.34 L292.16,357.46 L293.55,357.58 L294.93,357.71 L296.32,357.84 L297.70,357.98 L299.09,358.13 L300.47,358.29 L301.85,358.46 L303.23,358.63 L304.61,358.81 L305.99,358.99 L307.37,359.18 L308.75,359.38 L310.12,359.58 L311.50,359.79 L312.87,360.01 L314.25,360.23 L315.62,360.45 L316.99,360.68 L318.36,360.92 L319.74,361.16 L321.11,361.41 L322.48,361.66 L323.85,361.91 L325.22,362.17 L326.58,362.43 L327.95,362.70 L329.32,362.97 L330.69,363.24 L332.05,363.52 L333.42,363.80 L334.79,364.08 L336.15,364.37 L337.52,364.66 L338.88,364.95 L340.25,365.24 L341.61,365.54 L342.97,365.84 L344.34,366.14 L345.70,366.44 L347.07,366.74 L348.43,367.05 L349.79,367.36 L351.16,367.66 L352.52,367.97 L353.88,368.28 L355.25,368.59 L356.61,368.90 L357.97,369.21 L359.34,369.52 L360.70,369.83 L362.06,370.14 L363.43,370.45 L364.79,370.76 L366.15,371.07 L367.52,371.38 L368.88,371.69 L370.25,372.00 L371.61,372.30 L372.97,372.61 L374.34,372.91 L375.70,373.22 L377.07,373.52 L378.43,373.82 L379.80,374.13 L381.16,374.43 L382.53,374.73 L383.90,375.02 L385.26,375.32 L386.63,375.62 L387.99,375.91 L389.36,376.20 L390.73,376.49 L392.10,376.78 L393.46,377.07 L394.83,377.36 L396.20,377.64 L397.57,377.92 L398.93,378.21 L400.30,378.48 L401.67,378.76 L403.04,379.04 L404.41,379.31 L405.78,379.58 L407.15,379.85 L408.52,380.11 L409.89,380.38 L411.26,380.64 L412.63,380.90 L414.01,381.15 L415.38,381.41 L416.75,381.66 L418.12,381.91 L419.50,382.15 L420.87,382.39 L422.24,382.63 L423.62,382.87 L424.99,383.10 L426.37,383.34 L427.74,383.56 L429.12,383.79 L430.49,384.01 L431.87,384.23 L433.25,384.44 L434.62,384.65 L436.00,384.86 L437.38,385.06 L438.76,385.26 L440.14,385.46 L441.52,385.65 L442.90,385.84 L444.28,386.03 L445.66,386.21 L447.04,386.39 L448.42,386.56 L449.80,386.73 L451.18,386.90 L452.57,387.06 L453.95,387.22 L455.33,387.38 L456.72,387.53 L458.10,387.68 L459.49,387.83 L460.87,387.97 L462.26,388.11 L463.64,388.25 L465.03,388.38 L466.42,388.51 L467.80,388.64 L469.19,388.76 L470.58,388.88 L471.97,389.00 L473.35,389.11 L474.74,389.22 L476.13,389.33 L477.52,389.43 L478.91,389.53 L480.30,389.63 L481.69,389.72 L483.08,389.81 L484.47,389.90 L485.86,389.99 L487.25,390.07 L488.64,390.15 L490.04,390.23 L491.43,390.30 L492.82,390.37 L494.21,390.44 L495.60,390.51 L497.00,390.57 L498.39,390.63 L499.78,390.69 L501.18,390.74 L502.57,390.80 L503.97,390.84 L505.36,390.89 L506.75,390.94 L508.15,390.98 L509.54,391.02 L510.94,391.05 L512.33,391.09 L513.73,391.12 L515.13,391.15 L516.52,391.18 L517.92,391.20 L519.31,391.22 L520.71,391.24 L522.11,391.26 L523.50,391.27 L524.90,391.29 L526.30,391.30 L527.69,391.31 L529.09,391.31 L530.49,391.32 L531.88,391.32 L533.28,391.32 L534.68,391.32 L536.08,391.31 L537.47,391.31 L538.87,391.30 L540.27,391.29 L541.67,391.28 L543.07,391.26 L544.46,391.25 L545.86,391.23 L547.26,391.21 L548.66,391.19 L550.06,391.16 L551.45,391.14 L552.85,391.11 L554.25,391.08 L555.65,391.05 L557.05,391.02 L558.45,390.99 L559.84,390.95 L561.24,390.92 L562.64,390.88 L564.04,390.84 L565.44,390.80 L566.84,390.75 L568.23,390.71 L569.63,390.66 L571.03,390.62 L572.43,390.57 L573.83,390.52 L575.23,390.47 L576.62,390.41 L578.02,390.36 L579.42,390.30 L580.82,390.25 L582.22,390.19 L583.61,390.13 L585.01,390.07 L586.41,390.01 L587.81,389.95 L589.20,389.88 L590.60,389.82 L592.00,389.75 L593.39,389.69 L594.79,389.62 L596.19,389.55 L597.58,389.48 L598.98,389.41 L600.38,389.34 L601.77,389.27 L603.17,389.19 L604.57,389.12 L605.96,389.05 L607.36,388.97 L608.75,388.89 L610.15,388.82 L611.54,388.74 L612.94,388.66 L614.33,388.58 L615.73,388.50 L617.12,388.42 L618.51,388.34 L619.91,388.26 L621.30,388.18 L622.69,388.10 L624.09,388.01 L625.48,387.93 L626.87,387.85 L628.27,387.76 L629.66,387.68 L631.05,387.60 L632.44,387.51 L633.83,387.42 L635.22,387.34 L636.62,387.25 L638.01,387.17 L639.40,387.08 L640.79,387.00 L642.18,386.91 L643.56,386.82 L644.95,386.74 L646.34,386.65 L647.73,386.56 L649.12,386.48 L650.51,386.39 L651.89,386.30 L653.28,386.22 L654.67,386.13 L656.05,386.04 L657.44,385.96 L658.83,385.87 L660.21,385.79 L661.60,385.70 L662.98,385.61 L664.37,385.53 L665.75,385.44 L667.13,385.36 L668.52,385.28 L669.90,385.19" stroke="#f0f"/>
</g>
<g stroke="#000" stroke-opacity="0.56" stroke-width="1" fill="none" shape-rendering="crispEdges">
<line x1="151.5" y1="11.0" x2="191.0" y2="425.0"/>
<line x1="236.5" y1="8.0" x2="285.2" y2="423.0"/>
<line x1="258.0" y1="8.0" x2="304.6" y2="425.0"/>
<line x1="279.5" y1="8.0" x2="330.2" y2="425.0"/>
</g>
<g stroke="#161616" fill="none" stroke-linecap="square">
<path d="M102.0,8.6 V426.0 H670.0" stroke-width="1.9"/>
<path d="M102.0,426.0 v8.0 M137.5,426.0 v4.0 M173.0,426.0 v8.0 M208.5,426.0 v4.0 M244.0,426.0 v8.0 M279.5,426.0 v4.0 M315.0,426.0 v8.0 M350.5,426.0 v4.0 M386.0,426.0 v8.0 M421.5,426.0 v4.0 M457.0,426.0 v8.0 M492.5,426.0 v4.0 M528.0,426.0 v8.0 M563.5,426.0 v4.0 M599.0,426.0 v8.0 M634.5,426.0 v4.0 M670.0,426.0 v8.0 M102.0,425.6 h-8.0 M102.0,383.8 h-4.0 M102.0,342.1 h-8.0 M102.0,300.3 h-4.0 M102.0,258.6 h-8.0 M102.0,216.8 h-4.0 M102.0,175.0 h-8.0 M102.0,133.3 h-4.0 M102.0,91.5 h-8.0 M102.0,49.7 h-4.0 M102.0,8.0 h-8.0" stroke-width="1.7"/>
</g>
<g font-family="Liberation Sans, sans-serif" font-size="18.7" fill="#000">
<text transform="translate(102.0,454.6) scale(1,1.04)" text-anchor="middle">300</text>
<text transform="translate(173.0,454.6) scale(1,1.04)" text-anchor="middle">350</text>
<text transform="translate(244.0,454.6) scale(1,1.04)" text-anchor="middle">400</text>
<text transform="translate(315.0,454.6) scale(1,1.04)" text-anchor="middle">450</text>
<text transform="translate(386.0,454.6) scale(1,1.04)" text-anchor="middle">500</text>
<text transform="translate(457.0,454.6) scale(1,1.04)" text-anchor="middle">550</text>
<text transform="translate(528.0,454.6) scale(1,1.04)" text-anchor="middle">600</text>
<text transform="translate(599.0,454.6) scale(1,1.04)" text-anchor="middle">650</text>
<text transform="translate(670.0,454.6) scale(1,1.04)" text-anchor="middle">700</text>
<text transform="translate(87.2,430.9) scale(1,1.04)" text-anchor="end">0.00</text>
<text transform="translate(87.2,347.4) scale(1,1.04)" text-anchor="end">0.25</text>
<text transform="translate(87.2,263.9) scale(1,1.04)" text-anchor="end">0.50</text>
<text transform="translate(87.2,180.3) scale(1,1.04)" text-anchor="end">0.75</text>
<text transform="translate(87.2,96.8) scale(1,1.04)" text-anchor="end">1.00</text>
<text transform="translate(87.2,13.3) scale(1,1.04)" text-anchor="end">1.25</text>
</g>
<text transform="translate(385.6,490.6) scale(1,1.04)" text-anchor="middle" font-family="Liberation Sans, sans-serif" font-size="22.9">Wavelength (nm)</text>
<text transform="translate(17,224.1) rotate(-90) scale(1,1.04)" text-anchor="middle" font-family="Liberation Sans, sans-serif" font-size="22.8">Absorption (a.u.)</text>
<rect x="452.8" y="55.2" width="212.7" height="118.3" fill="#fff" stroke="#6a6a6a" stroke-width="1.3"/>
<line x1="462.4" y1="70.5" x2="512.6" y2="70.5" stroke="#000" stroke-width="3.2" stroke-linecap="round"/>
<text transform="translate(518.4,78.5) scale(1,1.04)" font-family="Liberation Sans, sans-serif" font-size="22.7">Cu + 0.5% N</text>
<line x1="462.4" y1="98.5" x2="512.6" y2="98.5" stroke="#f00" stroke-width="3.2" stroke-linecap="round"/>
<text transform="translate(518.4,106.5) scale(1,1.04)" font-family="Liberation Sans, sans-serif" font-size="22.7">Cu + 0.75% N</text>
<line x1="462.4" y1="126.4" x2="512.6" y2="126.4" stroke="#00f" stroke-width="3.2" stroke-linecap="round"/>
<text transform="translate(518.4,134.4) scale(1,1.04)" font-family="Liberation Sans, sans-serif" font-size="22.7">Cu + 1.0% N</text>
<line x1="462.4" y1="154.4" x2="512.6" y2="154.4" stroke="#f0f" stroke-width="3.2" stroke-linecap="round"/>
<text transform="translate(518.4,162.4) scale(1,1.04)" font-family="Liberation Sans, sans-serif" font-size="22.7">TiO<tspan font-size="14" dx="1" dy="7.5">2</tspan></text>
</svg>
</body></html>
